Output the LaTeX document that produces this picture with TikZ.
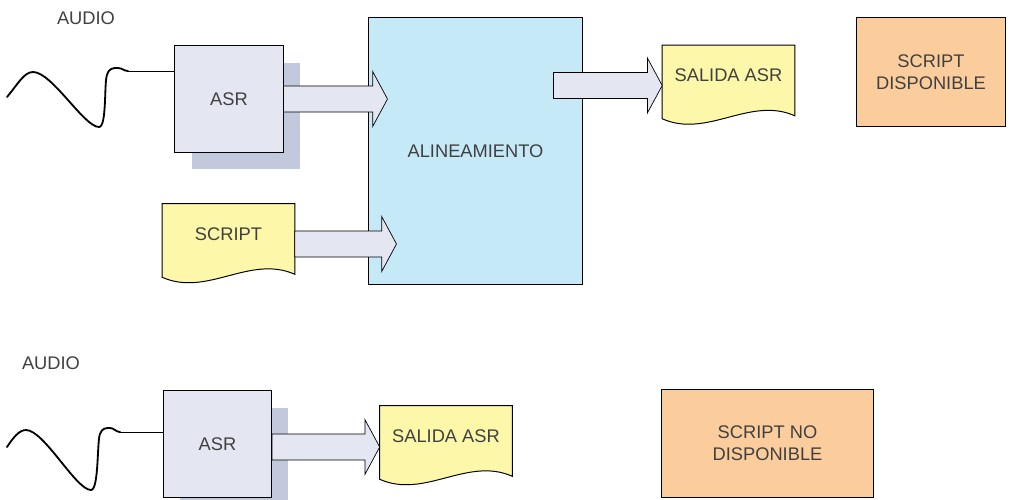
\documentclass[tikz,border=0pt]{standalone}
\usepackage{fontspec}
\setmainfont{Liberation Sans}
\definecolor{asrfill}{RGB}{228,230,242}
\definecolor{asrshade}{RGB}{195,201,220}
\definecolor{alinblue}{RGB}{198,233,248}
\definecolor{docyellow}{RGB}{253,247,169}
\definecolor{scriptorange}{RGB}{251,205,157}
\definecolor{labelgray}{RGB}{64,64,64}
\usetikzlibrary{calc,shadows,backgrounds}

%% wavy document outline behind a named node
\newcommand{\docback}[1]{%
  \begin{scope}[on background layer]
    \filldraw[fill=docyellow, draw=black, line width=0.7pt] (#1.north west) -- (#1.north east) -- ($(#1.south east)+(0,10)$)
      .. controls +(-45,-20) and +(45,20) .. ($(#1.south west)+(0,13)$) -- cycle;
  \end{scope}}

%% block arrow from #1 to the tip #2
\newcommand{\fatarrow}[2]{%
  \filldraw[fill=asrfill, draw=black, line width=0.5pt] let \p1=(#1), \p2=(#2) in
    (\x1,\y1+9.3pt) -- (\x2-10.5pt,\y1+9.3pt) -- (\x2-10.5pt,\y1+19.5pt) -- (\x2,\y1)
    -- (\x2-10.5pt,\y1-19.5pt) -- (\x2-10.5pt,\y1-9.3pt) -- (\x1,\y1-9.3pt) -- cycle;}

\begin{document}
\begin{tikzpicture}[x=0.025cm, y=-0.025cm,
  every node/.style={text=labelgray, font=\fontsize{13}{15.5}\selectfont},
  asr/.style={draw=black, line width=0.7pt, fill=asrfill, minimum width=2.7cm, minimum height=2.65cm,
    drop shadow={shadow xshift=0.42cm, shadow yshift=-0.42cm, fill=asrshade, opacity=1}},
  doc/.style={minimum width=3.3cm, minimum height=1.5cm, inner sep=0pt},
  avail/.style={draw=black, line width=0.7pt, fill=scriptorange, align=center},
  wave/.style={line width=1.3pt, line cap=round, line join=round},
  lead/.style={line width=0.7pt}
]
  \useasboundingbox (0,0) rectangle (1034,500);

  %% Upper chain: script available
  \node (audio1) at (86,18) {AUDIO};
  \node[asr] (asr1) at (229,99) {ASR};
  \coordinate (wave1) at (7,97);
  \coordinate (lead1) at (128,71);
  \draw[wave] (wave1) .. controls (18,84) and (24,72) .. (33,72) .. controls (52,72) and (84,127) .. (99,127)
    .. controls (107,127) and (104,82) .. (107,75) .. controls (109,68) and (113,68) .. (118,68)
    .. controls (122,68) and (124,71) .. (lead1);
  \draw[lead] (lead1) -- (asr1.west |- lead1);

  \node[draw=black, line width=0.7pt, fill=alinblue, minimum width=5.325cm, minimum height=6.65cm] (alin) at (475.5,151) {ALINEAMIENTO};

  \node[doc] (script) at (228.5,234) {SCRIPT};
  \docback{script}

  \node[doc] (salida1) at (728.5,75.5) {SALIDA ASR};
  \docback{salida1}

  \fatarrow{asr1.east}{$(alin.west |- asr1.east)+(19,0)$}
  \fatarrow{$(script.east)+(0,10)$}{$(alin.west |- script.east)+(28,10)$}
  \fatarrow{$(alin.east |- salida1.west)+(-29,10)$}{$(salida1.west)+(0,10)$}

  \node[avail, minimum width=3.7cm, minimum height=2.7cm] (disp) at (931,72) {SCRIPT\\DISPONIBLE};

  %% Lower chain: no script
  \node (audio2) at (51,363) {AUDIO};
  \node[asr] (asr2) at (217.5,444) {ASR};
  \coordinate (wave2) at (7,447);
  \coordinate (lead2) at (120,432);
  \draw[wave] (wave2) .. controls (13,438) and (19,430) .. (26,430) .. controls (44,430) and (76,490) .. (91,490)
    .. controls (99,490) and (97,440) .. (100,434) .. controls (102,428) and (106,428) .. (110,428)
    .. controls (114,428) and (116,432) .. (lead2);
  \draw[lead] (lead2) -- (asr2.west |- lead2);

  \node[doc] (salida2) at (446,436) {SALIDA ASR};
  \docback{salida2}

  \fatarrow{$(asr2.east)+(0,3)$}{$(salida2.west |- asr2.east)+(0,3)$}

  \node[avail, minimum width=5.275cm, minimum height=2.675cm] (nodisp) at (767.5,443.5) {SCRIPT NO\\DISPONIBLE};
\end{tikzpicture}
\end{document}
